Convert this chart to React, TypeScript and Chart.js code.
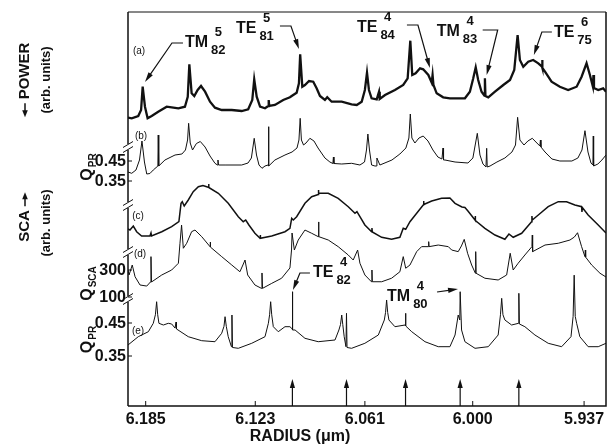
import React, { useEffect, useRef } from "react";
import { Chart, registerables } from "chart.js";
Chart.register(...registerables);

// ---------- axis / tick data ----------
const X_MIN = 5.9246;
const X_MAX = 6.195;
const xTickValues = [6.185, 6.123, 6.061, 6.0, 5.937];
const xTickLabels = ["6.185", "6.123", "6.061", "6.000", "5.937"];
const xTitle = "RADIUS (μm)";

const yTickPanels = ["b", "b", "d", "d", "e", "e"];
const yTickValues = [0.45, 0.35, 300, 100, 0.45, 0.35];
const yTickLabels = ["0.45", "0.35", "300", "100", "0.45", "0.35"];

// ---------- (a) measured power, arb. units ----------
const powerR = [6.195, 6.1929, 6.1892, 6.1876, 6.1867, 6.1854, 6.1839, 6.1816, 6.1779, 6.1731, 6.1703, 6.1665, 6.1628, 6.1612, 6.1603, 6.159, 6.1575, 6.1556, 6.1537, 6.1514, 6.1486, 6.1458, 6.142, 6.1363, 6.1307, 6.127, 6.1247, 6.1236, 6.1222, 6.1203, 6.1175, 6.1156, 6.1154, 6.1151, 6.1119, 6.1072, 6.1034, 6.1024, 6.0996, 6.0983, 6.0976, 6.0964, 6.0949, 6.0926, 6.0902, 6.0883, 6.0864, 6.0836, 6.0823, 6.0798, 6.0741, 6.0685, 6.0656, 6.0628, 6.061, 6.0598, 6.0587, 6.0572, 6.0543, 6.053, 6.0526, 6.0496, 6.044, 6.0393, 6.0368, 6.0353, 6.0342, 6.0323, 6.0298, 6.028, 6.0251, 6.0232, 6.0227, 6.0222, 6.0204, 6.0167, 6.0129, 6.01, 6.0044, 6.0016, 5.9997, 5.9983, 5.9969, 5.995, 5.9934, 5.9931, 5.9928, 5.9912, 5.9874, 5.9827, 5.9789, 5.9765, 5.9746, 5.9733, 5.9714, 5.9686, 5.9658, 5.9629, 5.9608, 5.9607, 5.9605, 5.9591, 5.9554, 5.9507, 5.946, 5.9412, 5.9384, 5.9356, 5.9337, 5.932, 5.9317, 5.9314, 5.929, 5.9262, 5.9246];
const powerA = [0.25, 0.17, 0.4, 1.0, 3.33, 1.33, 0.17, 0.4, 0.83, 1.33, 1.27, 1.17, 1.33, 2.33, 5.57, 2.67, 2.4, 3.0, 3.4, 2.83, 1.83, 1.23, 1.0, 1.0, 0.9, 1.07, 2.0, 4.07, 2.33, 1.33, 1.17, 1.4, 2.0, 1.4, 1.5, 2.0, 2.27, 2.4, 2.73, 3.67, 6.57, 3.33, 3.5, 3.9, 3.83, 3.17, 2.4, 2.0, 2.27, 1.83, 1.83, 1.57, 1.5, 1.83, 3.0, 4.73, 3.0, 2.17, 2.07, 2.83, 2.1, 2.5, 3.0, 3.5, 4.17, 7.93, 4.5, 4.67, 5.17, 5.07, 4.5, 3.73, 4.5, 3.5, 2.67, 2.27, 2.17, 2.17, 2.17, 2.83, 4.17, 5.27, 4.0, 2.83, 2.45, 4.17, 2.4, 2.27, 2.83, 3.5, 4.0, 5.0, 8.5, 6.0, 5.33, 5.83, 6.0, 5.67, 5.33, 6.0, 5.2, 4.83, 3.83, 3.33, 3.0, 3.33, 4.33, 5.67, 4.5, 3.33, 4.5, 3.2, 3.0, 3.17, 2.83];

// ---------- (b) computed Q_PR ----------
const qprBR = [6.195, 6.1929, 6.1905, 6.1885, 6.1871, 6.1857, 6.1844, 6.1826, 6.1807, 6.1781, 6.1779, 6.1776, 6.1741, 6.1684, 6.1645, 6.1625, 6.1613, 6.1607, 6.1598, 6.1585, 6.1563, 6.1541, 6.1514, 6.1486, 6.1458, 6.1444, 6.1441, 6.1438, 6.1401, 6.1307, 6.1271, 6.1252, 6.1236, 6.1223, 6.1209, 6.1192, 6.1175, 6.1158, 6.1155, 6.1153, 6.1119, 6.1062, 6.1022, 6.0994, 6.0983, 6.0976, 6.0969, 6.0957, 6.0943, 6.0921, 6.0898, 6.0875, 6.0836, 6.0808, 6.0791, 6.0788, 6.0785, 6.0741, 6.0685, 6.0638, 6.0612, 6.0601, 6.0593, 6.0584, 6.0572, 6.0553, 6.0545, 6.0542, 6.0525, 6.0457, 6.0412, 6.0378, 6.0361, 6.0353, 6.0344, 6.0327, 6.0304, 6.028, 6.0253, 6.0225, 6.0197, 6.0174, 6.0168, 6.0165, 6.0157, 6.01, 6.0027, 5.9999, 5.9974, 5.9959, 5.9942, 5.9925, 5.9921, 5.9918, 5.9902, 5.9863, 5.9818, 5.9778, 5.9758, 5.9746, 5.9733, 5.971, 5.9688, 5.9663, 5.9637, 5.962, 5.9617, 5.9614, 5.9591, 5.9552, 5.9507, 5.9439, 5.9405, 5.9382, 5.9365, 5.9348, 5.9331, 5.932, 5.9318, 5.9316, 5.9292, 5.9269, 5.9246];
const qprBV = [0.395, 0.3885, 0.405, 0.455, 0.55, 0.445, 0.385, 0.3875, 0.405, 0.425, 0.58, 0.425, 0.455, 0.48, 0.485, 0.505, 0.555, 0.6385, 0.54, 0.505, 0.5375, 0.5475, 0.52, 0.475, 0.4385, 0.43, 0.455, 0.43, 0.43, 0.43, 0.44, 0.465, 0.5635, 0.48, 0.43, 0.4135, 0.425, 0.43, 0.6215, 0.425, 0.455, 0.48, 0.495, 0.515, 0.555, 0.6635, 0.555, 0.53, 0.54, 0.5635, 0.55, 0.515, 0.465, 0.445, 0.4375, 0.47, 0.4375, 0.435, 0.4385, 0.43, 0.445, 0.505, 0.585, 0.505, 0.43, 0.425, 0.425, 0.465, 0.43, 0.455, 0.485, 0.515, 0.565, 0.685, 0.565, 0.54, 0.565, 0.575, 0.55, 0.505, 0.47, 0.46, 0.515, 0.455, 0.455, 0.445, 0.44, 0.465, 0.5885, 0.48, 0.435, 0.42, 0.5135, 0.42, 0.425, 0.445, 0.465, 0.495, 0.53, 0.6685, 0.555, 0.53, 0.55, 0.5635, 0.54, 0.525, 0.555, 0.52, 0.495, 0.46, 0.45, 0.45, 0.465, 0.505, 0.6015, 0.495, 0.44, 0.43, 0.575, 0.425, 0.435, 0.455, 0.48];

// ---------- (c) measured SCA, arb. units ----------
const scaR = [6.195, 6.1939, 6.192, 6.1901, 6.1873, 6.1826, 6.182, 6.1817, 6.1759, 6.1703, 6.1662, 6.165, 6.1643, 6.1632, 6.1609, 6.1581, 6.1552, 6.1526, 6.1496, 6.1494, 6.1492, 6.1439, 6.1383, 6.1326, 6.1298, 6.1284, 6.1266, 6.1232, 6.1203, 6.1202, 6.12, 6.1137, 6.1062, 6.1034, 6.1024, 6.1015, 6.0996, 6.0949, 6.0911, 6.0874, 6.0873, 6.0871, 6.0817, 6.0761, 6.0704, 6.0666, 6.0655, 6.0638, 6.061, 6.0572, 6.057, 6.0568, 6.0515, 6.0459, 6.0412, 6.0393, 6.0379, 6.0355, 6.0317, 6.028, 6.0278, 6.0276, 6.0232, 6.0176, 6.0129, 6.01, 6.0061, 6.0044, 6.0027, 5.9987, 5.9986, 5.9984, 5.9931, 5.9874, 5.9818, 5.9795, 5.9771, 5.9723, 5.9667, 5.9665, 5.9663, 5.9629, 5.9573, 5.9516, 5.9469, 5.9422, 5.9384, 5.9382, 5.938, 5.9347, 5.929, 5.9246];
const scaV = [1.1, 1.0, 1.4, 0.83, 0.4, 0.4, 0.7, 0.4, 0.83, 1.33, 1.83, 3.67, 3.83, 3.4, 4.0, 4.83, 5.33, 5.45, 5.27, 5.6, 5.25, 4.67, 3.67, 2.33, 1.83, 2.0, 1.5, 0.67, 0.17, 0.5, 0.17, 0.4, 0.83, 1.17, 2.17, 2.0, 2.33, 3.67, 4.33, 4.55, 5.0, 4.67, 4.67, 4.17, 3.33, 2.67, 2.83, 2.33, 1.5, 0.83, 1.2, 0.8, 0.27, 0.07, 0.27, 1.17, 1.07, 1.83, 2.67, 3.5, 3.9, 3.55, 3.9, 4.17, 4.2, 3.67, 3.3, 3.25, 2.9, 2.0, 2.4, 1.95, 1.17, 0.5, 0.07, 0.6, 0.27, 0.67, 1.83, 2.4, 2.0, 2.5, 3.33, 3.83, 3.83, 3.5, 3.33, 2.8, 3.25, 2.5, 1.5, 0.7];

// ---------- (d) computed Q_SCA ----------
const qscaR = [6.195, 6.1944, 6.1926, 6.191, 6.1882, 6.1844, 6.1823, 6.182, 6.1817, 6.1759, 6.1703, 6.1665, 6.1656, 6.1647, 6.1637, 6.1618, 6.159, 6.1571, 6.1533, 6.1486, 6.1485, 6.1483, 6.142, 6.1363, 6.1317, 6.13, 6.1288, 6.1273, 6.1232, 6.1195, 6.1192, 6.1189, 6.1137, 6.1081, 6.1034, 6.1025, 6.1022, 6.1009, 6.0987, 6.0949, 6.0911, 6.0874, 6.0872, 6.087, 6.0817, 6.0761, 6.0704, 6.0676, 6.0651, 6.0638, 6.061, 6.0573, 6.057, 6.0568, 6.0515, 6.0459, 6.0412, 6.0393, 6.0379, 6.0355, 6.0317, 6.0289, 6.0251, 6.0249, 6.0247, 6.0195, 6.0138, 6.0119, 6.0082, 6.0064, 6.0048, 6.0029, 6.0006, 5.9985, 5.9983, 5.9981, 5.9931, 5.9856, 5.9808, 5.9788, 5.9771, 5.9743, 5.9705, 5.9665, 5.9663, 5.9661, 5.9591, 5.9516, 5.945, 5.9425, 5.9407, 5.9384, 5.9365, 5.9363, 5.9361, 5.9327, 5.928, 5.9246];
const qscaV = [300, 263, 337, 250, 189, 181, 211, 399, 211, 263, 300, 350, 498, 633, 461, 498, 584, 596, 547, 473, 507, 470, 399, 337, 287, 337, 374, 263, 189, 164, 278, 164, 201, 239, 315, 448, 574, 448, 522, 596, 572, 547, 656, 547, 522, 473, 411, 374, 448, 350, 263, 213, 300, 213, 213, 239, 287, 399, 313, 337, 436, 473, 473, 510, 473, 485, 473, 448, 436, 478, 527, 424, 337, 276, 436, 276, 239, 226, 263, 424, 300, 350, 411, 473, 559, 436, 485, 498, 522, 544, 576, 473, 399, 448, 395, 337, 276, 248];

// ---------- (e) computed Q_PR ----------
const qprER = [6.195, 6.1892, 6.1835, 6.1807, 6.1795, 6.1788, 6.1782, 6.1775, 6.175, 6.1722, 6.1703, 6.1684, 6.1678, 6.1676, 6.1609, 6.1533, 6.1458, 6.142, 6.1407, 6.1401, 6.1394, 6.1383, 6.1365, 6.1362, 6.1359, 6.1326, 6.125, 6.1175, 6.1156, 6.1149, 6.1143, 6.1137, 6.1128, 6.11, 6.1062, 6.1034, 6.1021, 6.102, 6.1018, 6.1005, 6.0949, 6.0874, 6.0779, 6.0757, 6.0748, 6.0741, 6.0735, 6.0727, 6.0717, 6.0714, 6.0711, 6.0685, 6.061, 6.0534, 6.05, 6.0493, 6.0487, 6.0481, 6.0474, 6.044, 6.0383, 6.038, 6.0378, 6.0345, 6.027, 6.0195, 6.0129, 6.01, 6.0082, 6.0073, 6.0071, 6.0063, 6.0044, 5.9987, 5.9912, 5.9856, 5.9843, 5.9836, 5.9829, 5.9818, 5.978, 5.9741, 5.9739, 5.9736, 5.9705, 5.9648, 5.9573, 5.9497, 5.9444, 5.9432, 5.9426, 5.942, 5.9412, 5.9394, 5.9347, 5.929, 5.9246];
const qprEV = [0.3833, 0.4085, 0.4236, 0.4491, 0.475, 0.5145, 0.475, 0.4491, 0.4439, 0.4491, 0.447, 0.4348, 0.453, 0.432, 0.4085, 0.3964, 0.3933, 0.4188, 0.44, 0.4691, 0.44, 0.4085, 0.3782, 0.4742, 0.3758, 0.3733, 0.3885, 0.4085, 0.4491, 0.475, 0.5145, 0.475, 0.4388, 0.4236, 0.4388, 0.4388, 0.432, 0.5448, 0.4288, 0.4288, 0.4036, 0.3933, 0.3985, 0.4288, 0.445, 0.4742, 0.445, 0.4085, 0.3782, 0.4794, 0.3758, 0.3733, 0.3885, 0.4136, 0.4591, 0.482, 0.5197, 0.482, 0.4591, 0.4388, 0.4439, 0.4794, 0.4409, 0.4236, 0.3933, 0.3782, 0.3782, 0.4136, 0.4742, 0.4591, 0.5448, 0.4288, 0.3933, 0.3733, 0.3782, 0.4136, 0.475, 0.5248, 0.475, 0.4591, 0.4439, 0.4491, 0.54, 0.447, 0.4388, 0.4136, 0.3885, 0.3782, 0.4085, 0.47, 0.595, 0.47, 0.4491, 0.4085, 0.3782, 0.3782, 0.3885];

// ---------- annotations (data anchors) ----------
const modeMain = ["TM", "TE", "TE", "TM", "TE", "TE", "TM"];
const modeSup = ["5", "5", "4", "4", "6", "4", "4"];
const modeSub = ["82", "81", "84", "83", "75", "82", "80"];
const modePanel = ["a", "a", "a", "a", "a", "e", "e"];
const modeR = [6.1854, 6.0983, 6.0242, 5.9921, 5.9654, 6.1017, 6.0083];
const modeV = [3.8, 7.1, 5.2, 4.5, 6.5, 0.55, 0.553];
const teArrowR = [6.102, 6.0714, 6.038, 6.0071, 5.9739];
const panelNames = ["(a)", "(b)", "(c)", "(d)", "(e)"];

// ---------- layout (pixel offsets, stacking) ----------
const panelMap: Record<string, { off: number; k: number; ref: number }> = {
  a: { off: 286, k: 10, ref: 0 },
  b: { off: 245, k: 200, ref: 0.45 },
  c: { off: 166, k: 10, ref: 0 },
  d: { off: 136, k: 0.135, ref: 300 },
  e: { off: 83, k: 330, ref: 0.45 },
};
const stackOf = (p: string, v: number) => panelMap[p].off + panelMap[p].k * (v - panelMap[p].ref);

const modeLeader: number[][][] = [
  [[38, -39], [27, -39], [0, 0]],
  [[-19, -23], [-8, -23], [0, 0]],
  [[-23, -43], [-12, -43], [0, 0]],
  [[-4, -45], [11, -45], [0, 0]],
  [[18, -23], [8, -23], [0, 0]],
  [[17, -17], [7, -17], [0, 0]],
  [[-21, 3], [0, 0]],
];
const modeText: number[][] = [[40, -39], [-63, -20], [-73, -40], [-50, -43], [20, -22], [20, -17], [-71, 8]];
const panelLabelPos: number[][] = [[139, 51], [141, 136], [138, 216], [140, 254], [138, 331]];
const breakPx = [147, 205, 252, 299];

const FONT = "'Liberation Sans', Arial, Helvetica, sans-serif";
const INK = "#111";

function arrowHead(ctx: CanvasRenderingContext2D, x1: number, y1: number, x2: number, y2: number, len = 9, half = 2.6) {
  const a = Math.atan2(y2 - y1, x2 - x1);
  const c = Math.cos(a), s = Math.sin(a);
  ctx.beginPath();
  ctx.moveTo(x2, y2);
  ctx.lineTo(x2 - len * c + half * s, y2 - len * s - half * c);
  ctx.lineTo(x2 - len * c - half * s, y2 - len * s + half * c);
  ctx.closePath();
  ctx.fill();
}

const overlay = {
  id: "overlay",
  afterDraw(chart: any) {
    const { ctx, chartArea: ca, scales } = chart;
    const xs = scales.x, ys = scales.y;
    const X = (r: number) => xs.getPixelForValue(r);
    const Y = (p: string, v: number) => ys.getPixelForValue(stackOf(p, v));
    const L = ca.left, R = ca.right, T = ca.top, B = ca.bottom;
    ctx.save();
    ctx.strokeStyle = INK;
    ctx.fillStyle = INK;
    ctx.lineCap = "butt";

    // frame
    ctx.lineWidth = 1;
    ctx.beginPath(); ctx.moveTo(L, T); ctx.lineTo(R, T); ctx.stroke();
    ctx.lineWidth = 1.5;
    ctx.beginPath(); ctx.moveTo(R, T); ctx.lineTo(R, B); ctx.lineTo(L, B); ctx.stroke();
    // left axis with breaks
    const gaps = breakPx.slice().sort((a, b) => a - b);
    let y0 = T;
    ctx.beginPath();
    for (const g of gaps) {
      ctx.moveTo(L, y0); ctx.lineTo(L, g - 3);
      y0 = g + 3;
    }
    ctx.moveTo(L, y0); ctx.lineTo(L, B);
    ctx.stroke();
    ctx.lineWidth = 1;
    for (const g of gaps) {
      ctx.beginPath();
      ctx.moveTo(L - 5, g + 0.5); ctx.lineTo(L + 5, g - 5.5);
      ctx.moveTo(L - 5, g + 5.5); ctx.lineTo(L + 5, g - 0.5);
      ctx.stroke();
    }

    // left ticks + labels
    ctx.font = `bold 16px ${FONT}`;
    ctx.textAlign = "right";
    ctx.textBaseline = "middle";
    yTickValues.forEach((v, i) => {
      const y = Y(yTickPanels[i], v);
      ctx.beginPath(); ctx.moveTo(L, y); ctx.lineTo(L + 4, y); ctx.stroke();
      ctx.fillText(yTickLabels[i], L - 2, y + 1);
    });

    // bottom inward ticks
    xTickValues.forEach((v) => {
      const x = X(v);
      ctx.beginPath(); ctx.moveTo(x, B); ctx.lineTo(x, B - 5); ctx.stroke();
    });
    // TE resonance arrows
    ctx.lineWidth = 1.2;
    teArrowR.forEach((r) => {
      const x = X(r);
      ctx.beginPath(); ctx.moveTo(x, B); ctx.lineTo(x, B - 20); ctx.stroke();
      arrowHead(ctx, x, B - 10, x, B - 27, 9, 2.6);
    });

    // x-axis title
    ctx.font = `bold 16px ${FONT}`;
    ctx.textAlign = "center";
    ctx.textBaseline = "middle";
    ctx.fillText(xTitle, 300, 437);

    // rotated Q labels
    const qLab = (cy: number, sub: string) => {
      ctx.save();
      ctx.translate(88, cy);
      ctx.rotate(-Math.PI / 2);
      ctx.font = `bold 16px ${FONT}`;
      const wq = ctx.measureText("Q").width;
      ctx.font = `bold 10px ${FONT}`;
      const ws = ctx.measureText(sub).width;
      const x0 = -(wq + ws + 1) / 2;
      ctx.textAlign = "left";
      ctx.textBaseline = "middle";
      ctx.font = `bold 16px ${FONT}`;
      ctx.fillText("Q", x0, 0);
      ctx.font = `bold 10px ${FONT}`;
      ctx.fillText(sub, x0 + wq + 1, 5);
      ctx.restore();
    };
    qLab((Y("b", 0.45) + Y("b", 0.35)) / 2 - 4, "PR");
    qLab((Y("d", 300) + Y("d", 100)) / 2, "SCA");
    qLab((Y("e", 0.45) + Y("e", 0.35)) / 2, "PR");

    // left titles
    const rotTitle = (cx: number, cy: number, text: string, arrow: "pre" | "post" | null, size: number) => {
      ctx.save();
      ctx.translate(cx, cy);
      ctx.rotate(-Math.PI / 2);
      ctx.font = `bold ${size}px ${FONT}`;
      ctx.textAlign = "left";
      ctx.textBaseline = "middle";
      const w = ctx.measureText(text).width;
      const aw = arrow ? 18 : 0;
      const total = w + aw;
      let x = -total / 2;
      ctx.lineWidth = 1.5;
      if (arrow === "pre") {
        ctx.beginPath(); ctx.moveTo(x + 14, 0); ctx.lineTo(x + 4, 0); ctx.stroke();
        arrowHead(ctx, x + 12, 0, x, 0, 7, 2.8);
        x += aw;
      }
      ctx.fillText(text, x, 0);
      if (arrow === "post") {
        const ax = x + w + 4;
        ctx.beginPath(); ctx.moveTo(ax, 0); ctx.lineTo(ax + 10, 0); ctx.stroke();
        arrowHead(ctx, ax, 0, ax + 14, 0, 7, 2.8);
      }
      ctx.restore();
    };
    rotTitle(25, 80, "POWER", "pre", 15);
    rotTitle(46, 80, "(arb. units)", null, 13);
    rotTitle(25, 217, "SCA", "post", 15);
    rotTitle(46, 223, "(arb. units)", null, 13);

    // mode labels with leaders
    modeMain.forEach((m, i) => {
      const tx = X(modeR[i]);
      const ty = Y(modePanel[i], modeV[i]);
      const pts = modeLeader[i].map(([dx, dy]) => [tx + dx, ty + dy]);
      ctx.lineWidth = 1.2;
      ctx.beginPath();
      ctx.moveTo(pts[0][0], pts[0][1]);
      for (let k = 1; k < pts.length - 1; k++) ctx.lineTo(pts[k][0], pts[k][1]);
      const pa = pts[pts.length - 2];
      const len = Math.hypot(tx - pa[0], ty - pa[1]);
      const ux = (tx - pa[0]) / len, uy = (ty - pa[1]) / len;
      ctx.lineTo(tx - ux * 6, ty - uy * 6);
      ctx.stroke();
      arrowHead(ctx, pa[0], pa[1], tx, ty, 10, 2.6);

      const x0 = tx + modeText[i][0];
      const y0 = ty + modeText[i][1];
      ctx.textAlign = "left";
      ctx.textBaseline = "middle";
      ctx.font = `bold 16px ${FONT}`;
      ctx.fillText(m, x0, y0);
      const wm = ctx.measureText(m).width;
      ctx.font = `bold 13px ${FONT}`;
      const wsub = ctx.measureText(modeSub[i]).width;
      const wsup = ctx.measureText(modeSup[i]).width;
      const sx = x0 + wm + 3;
      ctx.fillText(modeSub[i], sx, y0 + 7);
      ctx.fillText(modeSup[i], sx + (wsub - wsup) / 2, y0 - 11);
    });

    // panel letters
    ctx.font = `10px ${FONT}`;
    ctx.textAlign = "center";
    ctx.textBaseline = "middle";
    panelNames.forEach((n, i) => ctx.fillText(n, panelLabelPos[i][0], panelLabelPos[i][1]));

    ctx.restore();
  },
};

export default function App() {
  const ref = useRef<HTMLCanvasElement | null>(null);
  useEffect(() => {
    if (!ref.current) return;
    const mk = (rs: number[], vs: number[], p: string, w: number) => ({
      data: rs.map((r, i) => ({ x: r, y: stackOf(p, vs[i]) })),
      borderColor: INK,
      borderWidth: w,
      pointRadius: 0,
      fill: false,
      tension: 0,
    });
    const chart = new Chart(ref.current, {
      type: "line",
      data: {
        datasets: [
          mk(powerR, powerA, "a", 2.3),
          mk(qprBR, qprBV, "b", 1),
          mk(scaR, scaV, "c", 1.5),
          mk(qscaR, qscaV, "d", 1),
          mk(qprER, qprEV, "e", 1),
        ] as any,
      },
      options: {
        animation: false,
        responsive: false,
        devicePixelRatio: 1,
        layout: { padding: { top: 12, right: 7, left: 0, bottom: 0 } },
        plugins: { legend: { display: false }, tooltip: { enabled: false } },
        elements: { point: { radius: 0 } },
        scales: {
          x: {
            type: "linear",
            reverse: true,
            min: X_MIN,
            max: X_MAX,
            afterBuildTicks: (s: any) => {
              s.ticks = xTickValues.map((v) => ({ value: v }));
            },
            afterFit: (s: any) => {
              s.height = 39;
            },
            ticks: {
              autoSkip: false,
              maxRotation: 0,
              padding: 4,
              color: INK,
              font: { family: FONT, size: 16, weight: "bold" },
              callback: (_v: any, i: number) => xTickLabels[i],
            },
            grid: { display: false, drawTicks: false },
            border: { display: false },
            title: { display: false },
          },
          y: {
            type: "linear",
            min: 0,
            max: 394,
            afterFit: (s: any) => {
              s.width = 128;
            },
            ticks: { display: false },
            grid: { display: false, drawTicks: false },
            border: { display: false },
          },
        },
      } as any,
      plugins: [overlay],
    });
    return () => chart.destroy();
  }, []);
  return (
    <div style={{ position: "absolute", left: 0, top: 0, width: 613, height: 445, background: "#fff" }}>
      <canvas ref={ref} width={613} height={445} style={{ display: "block" }} />
    </div>
  );
}
